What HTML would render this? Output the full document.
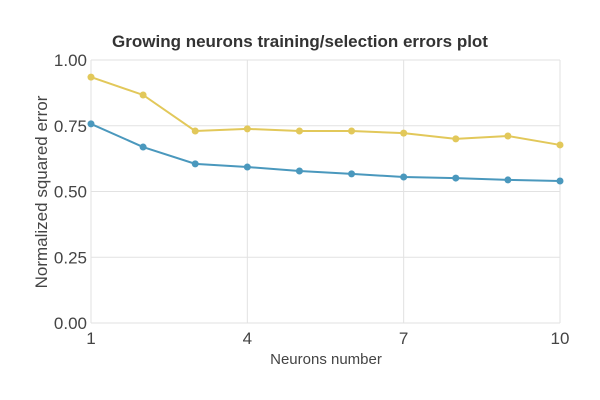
<!DOCTYPE html>
<html><head><meta charset="utf-8"><style>
body{margin:0;background:#fff;}
svg{display:block;font-family:"Liberation Sans",sans-serif;}
</style></head><body>
<svg id="chart" width="600" height="400">
<text x="300" y="47" text-anchor="middle" font-size="17" font-weight="bold" fill="#333">Growing neurons training/selection errors plot</text>
<g id="grid"></g><g id="axes"></g><g id="series"></g>
<text x="326" y="364" text-anchor="middle" font-size="15" fill="#444">Neurons number</text>
<text transform="translate(47,192) rotate(-90)" text-anchor="middle" font-size="17" fill="#444">Normalized squared error</text>
</svg>
<script>
const neurons=[1,2,3,4,5,6,7,8,9,10];
const trainingErr=[0.757,0.669,0.605,0.593,0.578,0.567,0.555,0.551,0.544,0.540];
const selectionErr=[0.935,0.867,0.730,0.738,0.730,0.730,0.722,0.700,0.711,0.677];
const xTicks=[1,4,7,10];
const yTicks=[0,0.25,0.5,0.75,1];
const yTickLabels=["0.00","0.25","0.50","0.75","1.00"];
const NS='http://www.w3.org/2000/svg';
const x=v=>91+(v-1)/9*469, y=v=>323-v*263;
function mk(t,a,p){const e=document.createElementNS(NS,t);for(const k in a)e.setAttribute(k,a[k]);p.appendChild(e);return e;}
const g=document.getElementById('grid'),ax=document.getElementById('axes'),s=document.getElementById('series');
yTicks.forEach((v,i)=>{
 const l=mk('line',{x1:91,x2:560,y1:y(v),y2:y(v),stroke:'#e2e2e2','stroke-width':1},g);
 
 
 const t=mk('text',{x:87,y:y(v)+6,'text-anchor':'end','font-size':17,fill:'#444'},ax);
 t.textContent=yTickLabels[i];
 
 
});
xTicks.forEach(v=>{
 const l=mk('line',{x1:x(v),x2:x(v),y1:60,y2:323,stroke:'#e2e2e2','stroke-width':1},g);
 
 
 const t=mk('text',{x:x(v),y:344,'text-anchor':'middle','font-size':17,fill:'#444'},ax);
 t.textContent=v;
 
 
});
[[selectionErr,'#e2c85a','selection-error'],[trainingErr,'#4a98bd','training-error']].forEach(([d,c,n])=>{
 const p=mk('polyline',{points:d.map((v,i)=>x(neurons[i])+','+y(v)).join(' '),fill:'none',stroke:c,'stroke-width':2},s);
 
 
 d.forEach((v,i)=>{
  const m=mk('circle',{cx:x(neurons[i]),cy:y(v),r:3.5,fill:c},s);
  
  
 });
});
</script>
</body></html>
